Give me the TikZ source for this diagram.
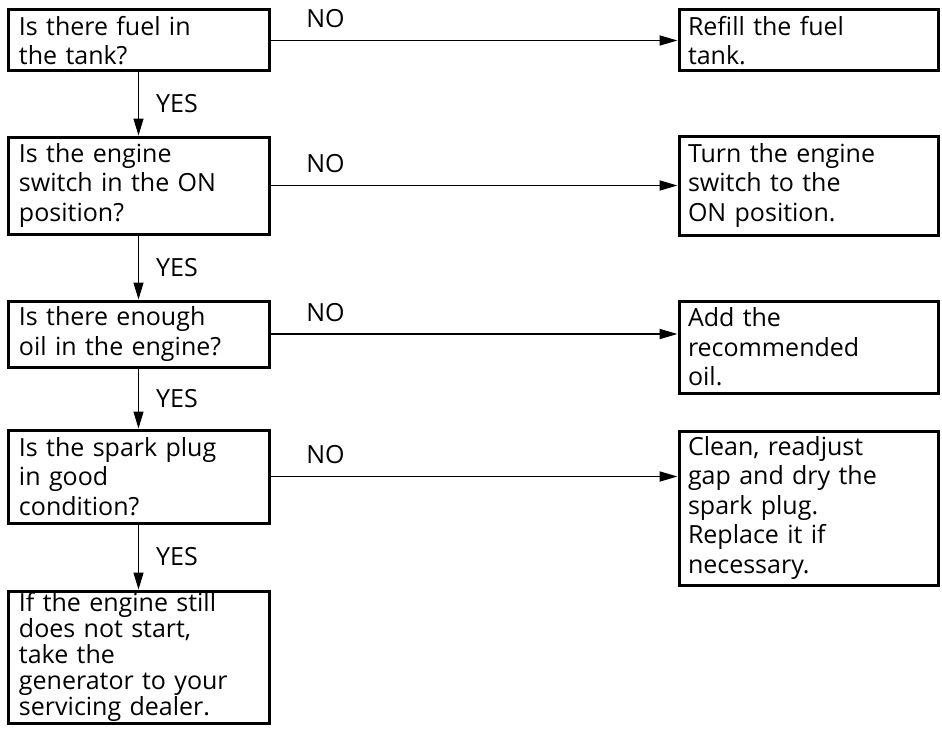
\documentclass[tikz,border=0pt]{standalone}
\usepackage{fontspec}
\setmainfont{Open Sans}
\usetikzlibrary{arrows.meta}
\begin{document}
\begin{tikzpicture}[x=1pt,y=-1pt,
  box/.style={draw, line width=3pt, anchor=north west, align=left,
    font=\fontsize{25}{29.5}\selectfont, inner ysep=0pt},
  lbox/.style={box, inner xsep=11pt, minimum width=261pt, text width=239pt},
  rbox/.style={box, inner xsep=9pt, minimum width=259pt, text width=241pt},
  yesarrow/.style={line width=1.3pt, -{Triangle[length=17pt,width=10pt]}},
  noarrow/.style={line width=1.8pt, -{Triangle[length=18pt,width=10pt]}},
  lab/.style={font=\fontsize{25}{29.5}\selectfont, inner sep=0pt}]
\useasboundingbox (0,0) rectangle (942,752);
% left column
\node[lbox, minimum height=61pt] (l1) at (6.5,8.5) {Is there fuel in\\the tank?};
\node[lbox, minimum height=97pt] (l2) at (6.5,135.5) {Is the engine\\switch in the ON\\position?};
\node[lbox, minimum height=66pt] (l3) at (6.5,299.5) {Is there enough\\oil in the engine?};
\node[lbox, minimum height=93pt] (l4) at (6.5,428.5) {Is the spark plug\\in good\\condition?};
\node[lbox, minimum height=132pt, font=\fontsize{25}{26}\selectfont] (l5) at (6.5,589.5) {If the engine still\\does not start,\\take the\\generator to your\\servicing dealer.};
% right column
\node[rbox, minimum height=61pt] (r1) at (677.5,8.5) {Refill the fuel\\tank.};
\node[rbox, minimum height=99pt] (r2) at (677.5,134.5) {Turn the engine\\switch to the\\ON position.};
\node[rbox, minimum height=92pt] (r3) at (677.5,299.5) {Add the\\recommended\\oil.};
\node[rbox, minimum height=154pt] (r4) at (677.5,429.5) {Clean, readjust\\gap and dry the\\spark plug.\\Replace it if\\necessary.};
% YES arrows
\draw[yesarrow] (l1.south) -- node[lab, midway, anchor=west, xshift=17pt] {YES} (l2.north);
\draw[yesarrow] (l2.south) -- node[lab, midway, anchor=west, xshift=17pt] {YES} (l3.north);
\draw[yesarrow] (l3.south) -- node[lab, midway, anchor=west, xshift=17pt] {YES} (l4.north);
\draw[yesarrow] (l4.south) -- node[lab, midway, anchor=west, xshift=17pt] {YES} (l5.north);
% NO arrows
\draw[noarrow] (l1.east) -- node[lab, pos=0.135, anchor=base, yshift=13pt] {NO} (l1.east -| r1.west);
\draw[noarrow] (l2.east) -- node[lab, pos=0.135, anchor=base, yshift=13pt] {NO} (l2.east -| r2.west);
\draw[noarrow] (l3.east) -- node[lab, pos=0.135, anchor=base, yshift=13pt] {NO} (l3.east -| r3.west);
\draw[noarrow] (l4.east) -- node[lab, pos=0.135, anchor=base, yshift=13pt] {NO} (l4.east -| r4.west);
\end{tikzpicture}
\end{document}
